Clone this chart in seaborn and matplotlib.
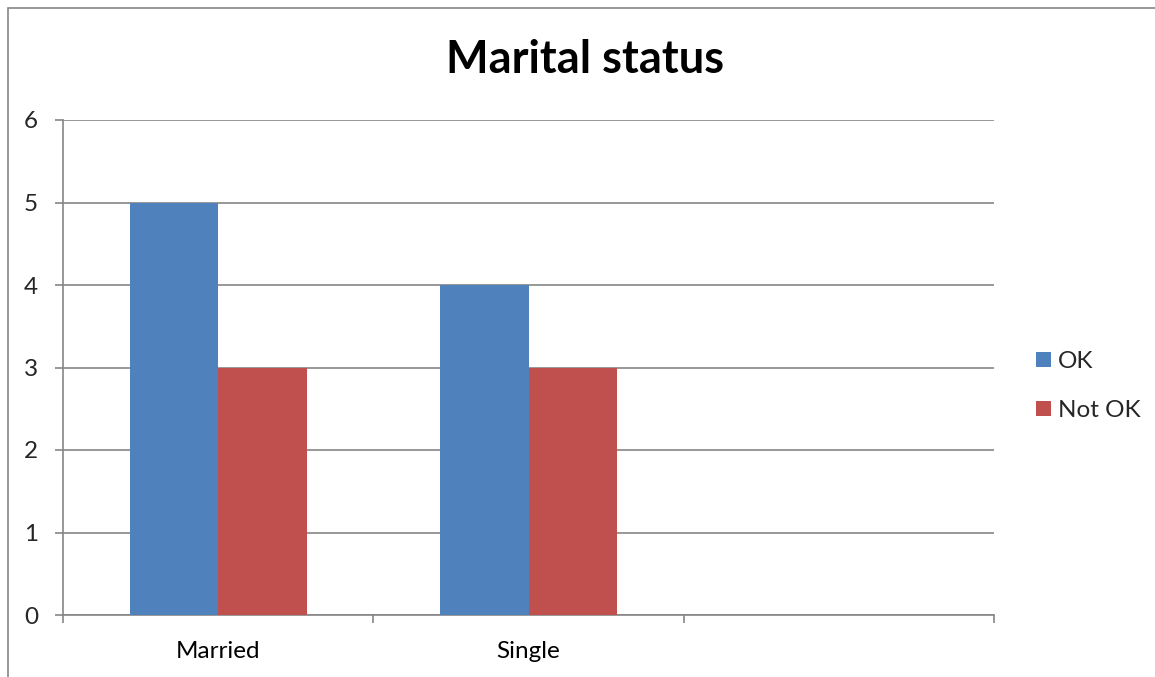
import matplotlib
matplotlib.use("Agg")
import matplotlib.pyplot as plt
import seaborn as sns
import pandas as pd
import numpy as np
from matplotlib.patches import Rectangle

categories = ["Married", "Single", ""]
ok_values = [5, 4, np.nan]
not_ok_values = [3, 3, np.nan]
series_names = ["OK", "Not OK"]
y_ticks = [0, 1, 2, 3, 4, 5, 6]

df = pd.DataFrame({
    "category": categories * 2,
    "value": ok_values + not_ok_values,
    "series": [series_names[0]] * len(categories) + [series_names[1]] * len(categories),
})

sns.set_theme(style="white")
plt.rcParams["font.family"] = ["Lato", "DejaVu Sans"]

W, H = 1155, 677
fig = plt.figure(figsize=(W / 100, H / 100), dpi=100)
ax = fig.add_axes([63 / W, 1 - 615 / H, (994 - 63) / W, (615 - 120) / H])

grid_c = "#868686"
sns.barplot(data=df, x="category", y="value", hue="series", order=categories,
            hue_order=series_names, palette=["#4F81BD", "#C0504D"],
            width=0.57, saturation=1, errorbar=None, ax=ax, zorder=3, legend=True,
            linewidth=0)

ax.set_xlim(-0.5, len(categories) - 0.5)
ax.set_ylim(0, 6)
ax.set_yticks(y_ticks)
ax.set_yticklabels([str(t) for t in y_ticks])
ax.yaxis.grid(True, color=grid_c, linewidth=1.2, zorder=0)
ax.set_axisbelow(True)
ax.set_xlabel("")
ax.set_ylabel("")

fs = 17.5
ax.set_xticks(range(len(categories)))
ax.set_xticklabels(categories)
ax.set_xticks(np.arange(-0.5, len(categories), 1.0), minor=True)
ax.tick_params(axis="x", which="major", length=0, pad=19, labelsize=fs, colors="black")
ax.tick_params(axis="x", which="minor", length=6, width=1.2, color=grid_c, direction="out", bottom=True)
ax.tick_params(axis="y", length=6, width=1.2, color=grid_c, direction="out", pad=12, labelsize=fs, left=True)

for s in ["top", "right"]:
    ax.spines[s].set_visible(False)
for s in ["left", "bottom"]:
    ax.spines[s].set_color(grid_c)
    ax.spines[s].set_linewidth(1.2)

fig.text(585 / W, 1 - 60 / H, "Marital status", ha="center", va="center",
         fontsize=32.5, fontweight="bold", color="black")

handles, labels = ax.get_legend_handles_labels()
ax.legend(handles, labels, loc="center left", bbox_to_anchor=(1036 / W, 1 - 386 / H),
          bbox_transform=fig.transFigure, frameon=False, fontsize=fs,
          borderaxespad=0, borderpad=0,
          handlelength=0.6, handleheight=0.6, handletextpad=0.3, labelspacing=1.15)

fig.patches.append(Rectangle((8 / W, -0.1), 1.2, 1.1 - 8 / H, transform=fig.transFigure,
                             fill=False, edgecolor=grid_c, linewidth=1.2, zorder=-1))

fig.savefig("out.png", dpi=100)
